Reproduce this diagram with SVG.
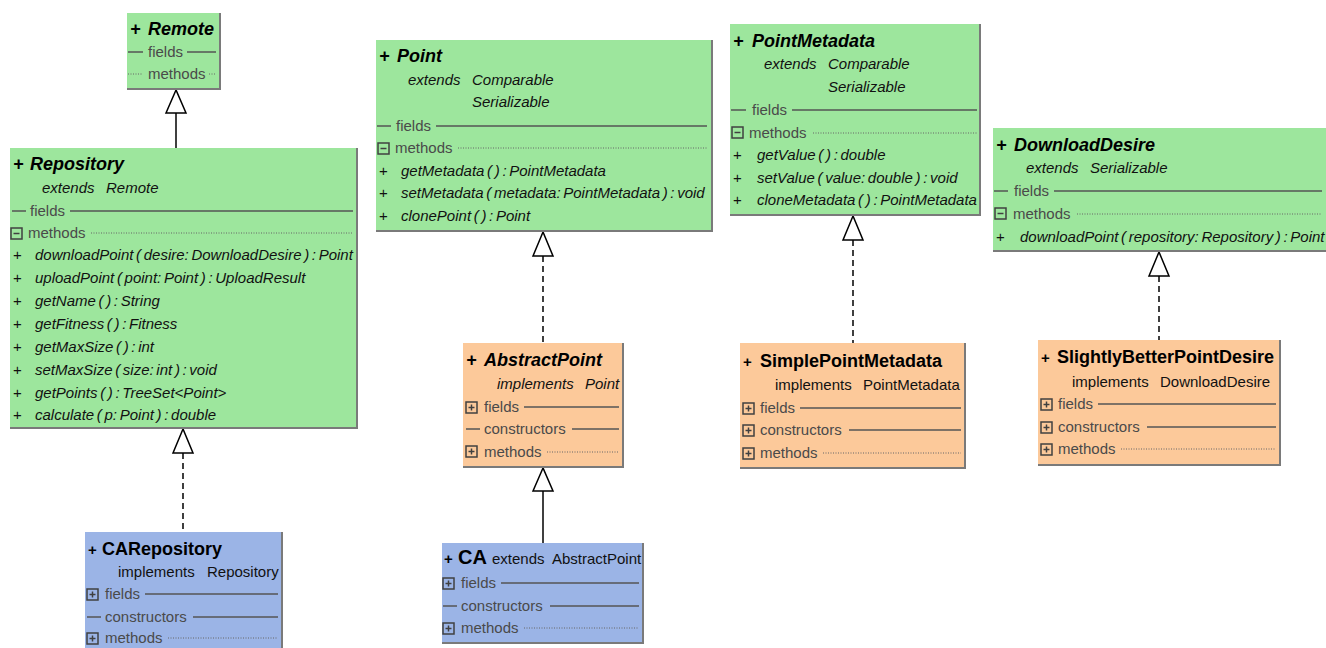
<svg xmlns="http://www.w3.org/2000/svg" width="1326" height="648" viewBox="0 0 1326 648">
<style>
.g{fill:#9de69d}.o{fill:#fcc99a}.b{fill:#9bb4e6}
.sh{fill:none;stroke:#7a7a7a;stroke-width:2}
.t{font-family:"Liberation Sans",Arial,sans-serif;font-size:18px;font-weight:bold;font-style:italic;fill:#000}
.pl{font-family:"Liberation Sans",Arial,sans-serif;font-size:15px;font-weight:bold;fill:#000}
.e{font-family:"Liberation Sans",Arial,sans-serif;font-size:15px;font-style:italic;fill:#111}
.ec{font-family:"Liberation Sans",Arial,sans-serif;font-size:15px;fill:#111}
.m{font-family:"Liberation Sans",Arial,sans-serif;font-size:15px;font-style:italic;fill:#111;word-spacing:-1.5px}
.s{font-family:"Liberation Sans",Arial,sans-serif;font-size:15px;fill:#4a4a4a}
.ln{stroke:#555;stroke-width:1.5}
.dt{stroke:#666;stroke-width:1;stroke-dasharray:1,1.5}
.ic{fill:none;stroke:#404040;stroke-width:1.5}
.tri{fill:#fff;stroke:#000;stroke-width:1.5}
.c{stroke:#000;stroke-width:1.5;fill:none}
.cd{stroke:#000;stroke-width:1.5;fill:none;stroke-dasharray:6,4}
</style>
<defs>
<g id="minus"><rect class="ic" x="0" y="0" width="11" height="11"/><line class="ic" x1="2.5" y1="5.5" x2="8.5" y2="5.5"/></g>
<g id="plus"><rect class="ic" x="0" y="0" width="11" height="11"/><line class="ic" x1="2.5" y1="5.5" x2="8.5" y2="5.5"/><line class="ic" x1="5.5" y1="2.5" x2="5.5" y2="8.5"/></g>
</defs>

<g id="connectors">
<line class="c" x1="176" y1="113" x2="176" y2="148"/>
<polygon class="tri" points="176,90 166,113 186,113"/>
<line class="cd" x1="183" y1="453" x2="183" y2="532"/>
<polygon class="tri" points="183,429 173,453 193,453"/>
<line class="cd" x1="543" y1="256" x2="543" y2="343"/>
<polygon class="tri" points="543,232 533,256 553,256"/>
<line class="c" x1="543" y1="491" x2="543" y2="543"/>
<polygon class="tri" points="543,468 533,491 553,491"/>
<line class="cd" x1="853" y1="240" x2="853" y2="343"/>
<polygon class="tri" points="853,216 843,240 863,240"/>
<line class="cd" x1="1159" y1="276" x2="1159" y2="340"/>
<polygon class="tri" points="1159,252 1149,276 1169,276"/>
</g>

<g id="Remote">
<rect class="g" x="127" y="13" width="93" height="76"/>
<polyline class="sh" points="220,13 220,89 127,89"/>
<text class="t" x="130" y="35">+ <tspan x="148">Remote</tspan></text>
<line class="ln" x1="128" y1="52" x2="143" y2="52"/>
<text class="s" x="148" y="57">fields</text>
<line class="ln" x1="187" y1="52" x2="216" y2="52"/>
<line class="dt" x1="128" y1="74" x2="143" y2="74"/>
<text class="s" x="148" y="79">methods</text>
<line class="dt" x1="209" y1="74" x2="216" y2="74"/>
</g>

<g id="Repository">
<rect class="g" x="10" y="148" width="347" height="280"/>
<polyline class="sh" points="357,148 357,428 10,428"/>
<text class="t" x="13" y="170">+ <tspan x="30">Repository</tspan></text>
<text class="e" x="42" y="193">extends <tspan x="106">Remote</tspan></text>
<line class="ln" x1="12" y1="211" x2="26" y2="211"/>
<text class="s" x="30" y="216">fields</text>
<line class="ln" x1="70" y1="211" x2="353" y2="211"/>
<use href="#minus" x="11" y="228"/>
<text class="s" x="28" y="238">methods</text>
<line class="dt" x1="91" y1="233" x2="353" y2="233"/>
<text class="ec" x="13" y="260">+</text><text class="m" x="35" y="260">downloadPoint ( desire: DownloadDesire ) : Point</text>
<text class="ec" x="13" y="283">+</text><text class="m" x="35" y="283">uploadPoint ( point: Point ) : UploadResult</text>
<text class="ec" x="13" y="306">+</text><text class="m" x="35" y="306">getName ( ) : String</text>
<text class="ec" x="13" y="329">+</text><text class="m" x="35" y="329">getFitness ( ) : Fitness</text>
<text class="ec" x="13" y="352">+</text><text class="m" x="35" y="352">getMaxSize ( ) : int</text>
<text class="ec" x="13" y="375">+</text><text class="m" x="35" y="375">setMaxSize ( size: int ) : void</text>
<text class="ec" x="13" y="398">+</text><text class="m" x="35" y="398">getPoints ( ) : TreeSet&lt;Point&gt;</text>
<text class="ec" x="13" y="420">+</text><text class="m" x="35" y="420">calculate ( p: Point ) : double</text>
</g>

<g id="Point">
<rect class="g" x="376" y="40" width="336" height="191"/>
<polyline class="sh" points="712,40 712,231 376,231"/>
<text class="t" x="379" y="62">+ <tspan x="397">Point</tspan></text>
<text class="e" x="408" y="85">extends <tspan x="472">Comparable</tspan></text>
<text class="e" x="472" y="107">Serializable</text>
<line class="ln" x1="377" y1="126" x2="391" y2="126"/>
<text class="s" x="396" y="131">fields</text>
<line class="ln" x1="436" y1="126" x2="707" y2="126"/>
<use href="#minus" x="378" y="143"/>
<text class="s" x="395" y="153">methods</text>
<line class="dt" x1="458" y1="148" x2="707" y2="148"/>
<text class="ec" x="379" y="176">+</text><text class="m" x="401" y="176">getMetadata ( ) : PointMetadata</text>
<text class="ec" x="379" y="198">+</text><text class="m" x="401" y="198">setMetadata ( metadata: PointMetadata ) : void</text>
<text class="ec" x="379" y="221">+</text><text class="m" x="401" y="221">clonePoint ( ) : Point</text>
</g>

<g id="PointMetadata">
<rect class="g" x="730" y="24" width="250" height="191"/>
<polyline class="sh" points="980,24 980,215 730,215"/>
<text class="t" x="733" y="47">+ <tspan x="752">PointMetadata</tspan></text>
<text class="e" x="764" y="69">extends <tspan x="828">Comparable</tspan></text>
<text class="e" x="828" y="92">Serializable</text>
<line class="ln" x1="731" y1="110" x2="746" y2="110"/>
<text class="s" x="752" y="115">fields</text>
<line class="ln" x1="792" y1="110" x2="977" y2="110"/>
<use href="#minus" x="732" y="127"/>
<text class="s" x="749" y="138">methods</text>
<line class="dt" x1="813" y1="133" x2="977" y2="133"/>
<text class="ec" x="733" y="160">+</text><text class="m" x="757" y="160">getValue ( ) : double</text>
<text class="ec" x="733" y="183">+</text><text class="m" x="757" y="183">setValue ( value: double ) : void</text>
<text class="ec" x="733" y="205">+</text><text class="m" x="757" y="205">cloneMetadata ( ) : PointMetadata</text>
</g>

<g id="DownloadDesire">
<rect class="g" x="993" y="128" width="333" height="123"/>
<polyline class="sh" points="993,251 1326,251"/>
<text class="t" x="996" y="151">+ <tspan x="1014">DownloadDesire</tspan></text>
<text class="e" x="1026" y="173">extends <tspan x="1090">Serializable</tspan></text>
<line class="ln" x1="994" y1="191" x2="1008" y2="191"/>
<text class="s" x="1014" y="196">fields</text>
<line class="ln" x1="1054" y1="191" x2="1322" y2="191"/>
<use href="#minus" x="995" y="208"/>
<text class="s" x="1013" y="219">methods</text>
<line class="dt" x1="1077" y1="214" x2="1322" y2="214"/>
<text class="ec" x="996" y="242">+</text><text class="m" x="1020" y="242">downloadPoint ( repository: Repository ) : Point</text>
</g>

<g id="AbstractPoint">
<rect class="o" x="463" y="343" width="160" height="124"/>
<polyline class="sh" points="623,343 623,467 463,467"/>
<text class="t" x="466" y="366">+ <tspan x="484">AbstractPoint</tspan></text>
<text class="e" x="497" y="389">implements <tspan x="585">Point</tspan></text>
<use href="#plus" x="466" y="402"/>
<text class="s" x="484" y="412">fields</text>
<line class="ln" x1="524" y1="407" x2="619" y2="407"/>
<line class="ln" x1="466" y1="429" x2="480" y2="429"/>
<text class="s" x="484" y="434">constructors</text>
<line class="ln" x1="572" y1="429" x2="619" y2="429"/>
<use href="#plus" x="466" y="446"/>
<text class="s" x="484" y="457">methods</text>
<line class="dt" x1="547" y1="452" x2="619" y2="452"/>
</g>

<g id="SimplePointMetadata">
<rect class="o" x="740" y="343" width="225" height="125"/>
<polyline class="sh" points="965,343 965,468 740,468"/>
<text class="pl" x="743" y="367">+ <tspan x="760" style="font-size:18px">SimplePointMetadata</tspan></text>
<text class="ec" x="775" y="390">implements <tspan x="863">PointMetadata</tspan></text>
<use href="#plus" x="743" y="403"/>
<text class="s" x="760" y="413">fields</text>
<line class="ln" x1="800" y1="408" x2="961" y2="408"/>
<use href="#plus" x="743" y="425"/>
<text class="s" x="760" y="435">constructors</text>
<line class="ln" x1="849" y1="430" x2="961" y2="430"/>
<use href="#plus" x="743" y="448"/>
<text class="s" x="760" y="458">methods</text>
<line class="dt" x1="823" y1="453" x2="961" y2="453"/>
</g>

<g id="SlightlyBetterPointDesire">
<rect class="o" x="1038" y="340" width="242" height="125"/>
<polyline class="sh" points="1280,340 1280,465 1038,465"/>
<text class="pl" x="1041" y="363">+ <tspan x="1057" style="font-size:18px">SlightlyBetterPointDesire</tspan></text>
<text class="ec" x="1072" y="387">implements <tspan x="1160">DownloadDesire</tspan></text>
<use href="#plus" x="1041" y="399"/>
<text class="s" x="1058" y="409">fields</text>
<line class="ln" x1="1098" y1="404" x2="1276" y2="404"/>
<use href="#plus" x="1041" y="422"/>
<text class="s" x="1058" y="432">constructors</text>
<line class="ln" x1="1147" y1="427" x2="1276" y2="427"/>
<use href="#plus" x="1041" y="444"/>
<text class="s" x="1058" y="454">methods</text>
<line class="dt" x1="1121" y1="449" x2="1276" y2="449"/>
</g>

<g id="CARepository">
<rect class="b" x="85" y="532" width="197" height="128"/>
<polyline class="sh" points="282,532 282,660"/>
<text class="pl" x="88" y="555">+ <tspan x="102" style="font-size:18px">CARepository</tspan></text>
<text class="ec" x="118" y="577">implements <tspan x="207">Repository</tspan></text>
<use href="#plus" x="87" y="589"/>
<text class="s" x="105" y="599">fields</text>
<line class="ln" x1="145" y1="594" x2="278" y2="594"/>
<line class="ln" x1="87" y1="617" x2="101" y2="617"/>
<text class="s" x="105" y="622">constructors</text>
<line class="ln" x1="193" y1="617" x2="278" y2="617"/>
<use href="#plus" x="87" y="633"/>
<text class="s" x="105" y="643">methods</text>
<line class="dt" x1="168" y1="638" x2="278" y2="638"/>
</g>

<g id="CA">
<rect class="b" x="442" y="543" width="201" height="100"/>
<polyline class="sh" points="643,543 643,643 442,643"/>
<text class="pl" x="444" y="564">+ <tspan x="458" style="font-size:20px">CA</tspan></text>
<text class="ec" x="492" y="564">extends <tspan x="552">AbstractPoint</tspan></text>
<use href="#plus" x="443" y="578"/>
<text class="s" x="461" y="588">fields</text>
<line class="ln" x1="501" y1="583" x2="639" y2="583"/>
<line class="ln" x1="443" y1="606" x2="457" y2="606"/>
<text class="s" x="461" y="611">constructors</text>
<line class="ln" x1="550" y1="606" x2="639" y2="606"/>
<use href="#plus" x="443" y="623"/>
<text class="s" x="461" y="633">methods</text>
<line class="dt" x1="524" y1="628" x2="639" y2="628"/>
</g>
</svg>
